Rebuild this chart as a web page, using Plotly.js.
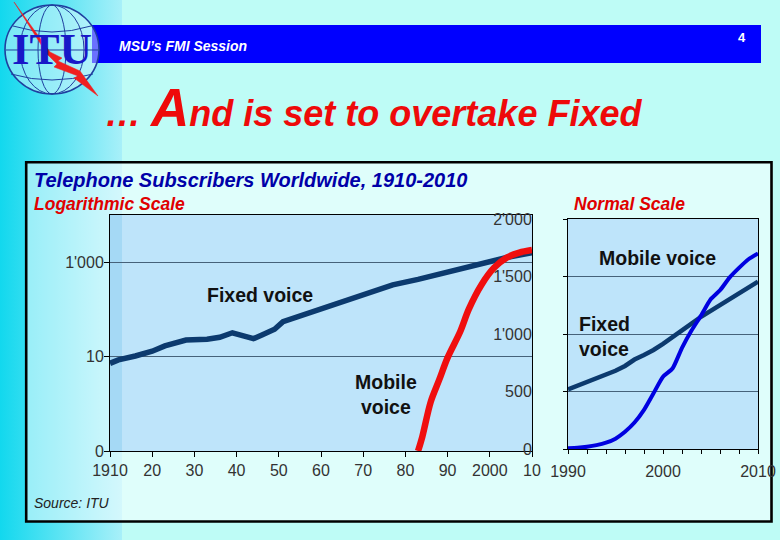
<!DOCTYPE html>
<html>
<head>
<meta charset="utf-8">
<script src="https://cdn.plot.ly/plotly-3.0.1.min.js"></script>
<style>
  html, body { margin: 0; padding: 0; }
  #slide {
    width: 780px; height: 540px;
    background: linear-gradient(to right, #12D8EE 0px, #A8F0F9 122px, #BEFCF6 122px, #BEFCF6 100%);
  }
</style>
</head>
<body>
<div id="slide"></div>
<script>
// Fixed-line telephone subscribers (millions), 1910-2010, log panel
const fixedYears = [1910, 1912, 1916, 1920, 1923, 1928, 1933, 1936, 1939, 1942, 1944, 1946, 1949,
                    1951, 1953, 1957, 1960, 1965, 1971, 1977, 1983, 1989, 1995, 1999, 2004, 2010];
const fixedSubs  = [7.2, 8.5, 10.3, 13, 16.8, 22.5, 23.3, 25.7, 32, 26, 24, 28.7, 38,
                    55, 63, 80, 100, 146, 220, 330, 434, 600, 780, 1025, 1260, 1590];

// Mobile subscribers (millions), log panel
const mobileYears = [1983, 1984, 1986, 1988, 1990, 1993, 1995, 1998, 2001, 2004, 2007, 2010];
const mobileSubs  = [0.1, 0.2, 1.1, 3.2, 9.5, 34, 100, 330, 760, 1250, 1600, 1810];

// Normal-scale panel, 1990-2010 (millions)
const recentYears  = [1990, 1991, 1992, 1993, 1994, 1995, 1996, 1997, 1998, 1999, 2000,
                      2001, 2002, 2003, 2004, 2005, 2006, 2007, 2008, 2009, 2010];
const recentFixed  = [519, 550, 585, 612, 643, 680, 722, 778, 818, 861, 915,
                      977, 1030, 1090, 1150, 1200, 1250, 1300, 1350, 1405, 1455];
const recentMobile = [6, 11, 20, 34, 55, 90, 150, 230, 340, 484, 629,
                      700, 880, 1030, 1160, 1300, 1380, 1490, 1575, 1650, 1700];

// Tick labels
const logXTicks  = [1910, 1920, 1930, 1940, 1950, 1960, 1970, 1980, 1990, 2000, 2010];
const logXLabels = ['1910', '20', '30', '40', '50', '60', '70', '80', '90', '2000', '10'];
const logYTicks  = [0.1, 10, 1000];
const logYLabels = ['0', '10', "1'000"];
const linXTicks  = [1990, 2000, 2010];
const linXLabels = ['1990', '2000', '2010'];
const linYTicks  = [0, 500, 1000, 1500, 2000];
const linYLabels = ['0', '500', "1'000", "1'500", "2'000"];

// ---- page geometry helpers (pixel -> paper fraction) ----
const W = 780, H = 540;
const px = v => v / W;
const py = v => 1 - v / H;
const pt = (x, y) => px(x).toFixed(5) + ',' + py(y).toFixed(5);

const FONT = 'Liberation Sans, Arial, Helvetica, sans-serif';
const tickFont = { family: FONT, size: 16, color: '#333333' };
const gridCol = '#46627A';
const navy = '#0C3A6E';
const plotFill = '#BEE4FA';

const traces = [
  { x: fixedYears, y: fixedSubs, xaxis: 'x', yaxis: 'y', mode: 'lines',
    line: { color: navy, width: 5.5 }, hoverinfo: 'skip' },
  { x: mobileYears, y: mobileSubs, xaxis: 'x', yaxis: 'y', mode: 'lines',
    line: { color: '#F00E0E', width: 6.5, shape: 'spline', smoothing: 0.9 }, hoverinfo: 'skip' },
  { x: recentYears, y: recentFixed, xaxis: 'x2', yaxis: 'y2', mode: 'lines',
    line: { color: navy, width: 4.5 }, hoverinfo: 'skip' },
  { x: recentYears, y: recentMobile, xaxis: 'x2', yaxis: 'y2', mode: 'lines',
    line: { color: '#0000E0', width: 4, shape: 'spline', smoothing: 0.6 }, hoverinfo: 'skip' }
];

const boxAxis = { showline: true, linecolor: '#000', linewidth: 1, mirror: true,
                  zeroline: false, tickcolor: '#000', tickfont: tickFont, tickmode: 'array' };

const shapes = [
  // chart panel
  { type: 'rect', xref: 'paper', yref: 'paper', layer: 'below',
    x0: px(26.2), x1: px(771.5), y0: py(521.5), y1: py(162.2),
    fillcolor: 'rgba(255,255,255,0.5)', line: { color: '#000', width: 2.6 } },
  // plot-area fills (kept inside each subplot so they sit above the panel)
  { type: 'rect', xref: 'x domain', yref: 'y domain', layer: 'below',
    x0: 0, x1: 1, y0: 0, y1: 1, fillcolor: plotFill, line: { width: 0 } },
  { type: 'rect', xref: 'x2 domain', yref: 'y2 domain', layer: 'below',
    x0: 0, x1: 1, y0: 0, y1: 1, fillcolor: plotFill, line: { width: 0 } },
  // darker strip where the side band meets the log plot
  { type: 'rect', xref: 'x domain', yref: 'y domain', layer: 'below',
    x0: 0, x1: 12 / 422, y0: 0, y1: 1,
    fillcolor: 'rgba(100,190,235,0.28)', line: { width: 0 } },
  // header bar
  { type: 'rect', xref: 'paper', yref: 'paper', layer: 'above',
    x0: px(92), x1: px(761), y0: py(63), y1: py(25),
    fillcolor: '#0000FF', line: { width: 0 } },
  // ITU globe
  { type: 'circle', xref: 'paper', yref: 'paper', layer: 'above',
    x0: px(5), x1: px(99), y0: py(94), y1: py(5),
    fillcolor: 'rgba(235,250,255,0.45)', line: { color: '#1F3F9F', width: 1.6 } },
  { type: 'circle', xref: 'paper', yref: 'paper', layer: 'above',
    x0: px(20), x1: px(84), y0: py(94), y1: py(5),
    line: { color: '#1F3F9F', width: 1 } },
  { type: 'circle', xref: 'paper', yref: 'paper', layer: 'above',
    x0: px(38), x1: px(66), y0: py(94), y1: py(5),
    line: { color: '#1F3F9F', width: 1 } },
  { type: 'path', xref: 'paper', yref: 'paper', layer: 'above',
    path: 'M' + pt(6, 50) + ' L' + pt(98, 50), line: { color: '#1F3F9F', width: 1 } },
  { type: 'path', xref: 'paper', yref: 'paper', layer: 'above',
    path: 'M' + pt(13, 26) + ' Q' + pt(52, 38) + ' ' + pt(91, 26), line: { color: '#1F3F9F', width: 1 } },
  { type: 'path', xref: 'paper', yref: 'paper', layer: 'above',
    path: 'M' + pt(11, 74) + ' Q' + pt(52, 86) + ' ' + pt(93, 74), line: { color: '#1F3F9F', width: 1 } },
  // lightning bolt
  { type: 'path', xref: 'paper', yref: 'paper', layer: 'above',
    path: 'M' + pt(14, 2) + ' L' + pt(50, 52) + ' L' + pt(62, 58) + ' L' + pt(58, 61) +
          ' L' + pt(80, 71) + ' L' + pt(98, 96) + ' L' + pt(74, 78) + ' L' + pt(78, 76) +
          ' L' + pt(54, 67) + ' L' + pt(57, 64) + ' L' + pt(47, 54) + ' Z',
    fillcolor: '#F02020', line: { color: '#F02020', width: 0.5 } }
];

function label(text, x, y, opts) {
  return Object.assign({ text: text, x: px(x), y: py(y), xref: 'paper', yref: 'paper',
    showarrow: false, xanchor: 'left', yanchor: 'middle', borderpad: 0 }, opts);
}
const bold = (size, color, extra) => Object.assign({ family: FONT, size: size, color: color, weight: 'bold' }, extra || {});

const annotations = [
  label('ITU', 52, 49, { xanchor: 'center',
    font: { family: 'Liberation Serif, DejaVu Serif, serif', size: 45, color: '#1818C8', weight: 'bold' } }),
  label('MSU\u2019s FMI Session', 118, 46, { font: bold(14, '#FFFFFF', { style: 'italic' }) }),
  label('4', 742, 37, { xanchor: 'center', font: bold(13, '#FFFFFF') }),
  label('\u2026 <span style="font-size:53px">A</span>nd is set to overtake Fixed', 104, 108,
        { font: bold(36, '#EE0A0A', { style: 'italic' }) }),
  label('Telephone Subscribers Worldwide, 1910-2010', 33, 180,
        { font: bold(20, '#0000A8', { style: 'italic' }) }),
  label('Logarithmic Scale', 33, 204, { font: bold(17.5, '#E00000', { style: 'italic' }) }),
  label('Normal Scale', 573, 204, { font: bold(17.5, '#E00000', { style: 'italic' }) }),
  label('Fixed voice', 260, 295, { xanchor: 'center', font: bold(19.5, '#111111') }),
  label('Mobile<br>voice', 386, 394, { xanchor: 'center', font: bold(19.5, '#111111') }),
  label('Mobile voice', 657, 258, { xanchor: 'center', font: bold(19.5, '#111111') }),
  label('Fixed<br>voice', 578, 336, { align: 'left', font: bold(19.5, '#111111') }),
  label('Source: ITU', 33, 503, { font: { family: FONT, size: 14, color: '#222222', style: 'italic' } })
];

const layout = {
  width: W, height: H,
  margin: { l: 0, r: 0, t: 0, b: 0, pad: 0 },
  paper_bgcolor: 'rgba(0,0,0,0)',
  plot_bgcolor: 'rgba(0,0,0,0)',
  showlegend: false,
  xaxis: Object.assign({}, boxAxis, {
    domain: [px(110), px(532)], anchor: 'y', range: [1910, 2010],
    tickvals: logXTicks, ticktext: logXLabels, ticks: 'outside', ticklen: 5, showgrid: false }),
  yaxis: Object.assign({}, boxAxis, {
    domain: [py(451), py(215)], anchor: 'x', type: 'log', range: [-1, 4],
    tickvals: logYTicks, ticktext: logYLabels, ticks: 'outside', ticklen: 5,
    showgrid: true, gridcolor: gridCol, gridwidth: 1, ticklabelstandoff: -3 }),
  xaxis2: Object.assign({}, boxAxis, {
    domain: [px(568), px(758)], anchor: 'y2', range: [1990, 2010],
    tickvals: linXTicks, ticktext: linXLabels, ticks: 'outside', ticklen: 4, showgrid: false,
    ticklabelstandoff: 4,
    minor: { tickmode: 'linear', tick0: 1990, dtick: 2, ticks: 'outside', ticklen: 4,
             tickcolor: '#000', showgrid: false } }),
  yaxis2: Object.assign({}, boxAxis, {
    domain: [py(449), py(219)], anchor: 'x2', range: [0, 2000],
    tickvals: linYTicks, ticktext: linYLabels, ticks: 'outside', ticklen: 4,
    showgrid: true, gridcolor: gridCol, gridwidth: 1, ticklabelstandoff: 28 }),
  shapes: shapes,
  annotations: annotations
};

Plotly.newPlot('slide', traces, layout, { staticPlot: true, displayModeBar: false });
</script>
</body>
</html>
